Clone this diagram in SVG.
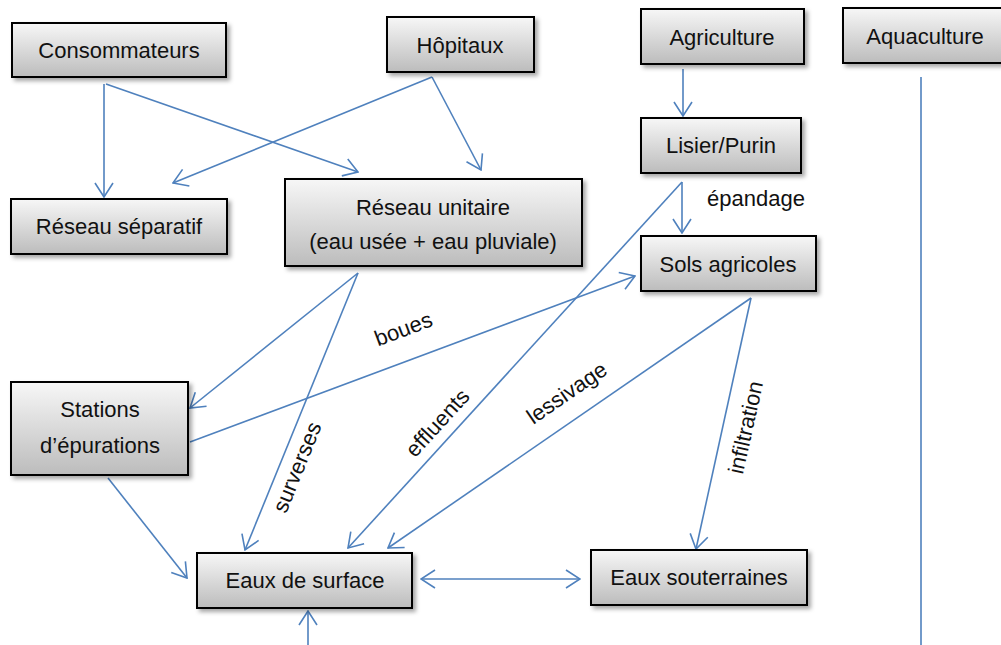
<svg xmlns="http://www.w3.org/2000/svg" width="1001" height="645" viewBox="0 0 1001 645">
<style>
.box{fill:url(#g);stroke:#000;stroke-width:2;filter:url(#sh)}
.t{font-family:"Liberation Sans",Arial,sans-serif;font-size:22px;fill:#111;text-anchor:middle}
.c{fill:none;stroke:#4f81bd;stroke-width:1.6}
.a{marker-end:url(#arr)}
</style>
<defs>
<linearGradient id="g" x1="0" y1="0" x2="0" y2="1">
<stop offset="0" stop-color="#f7f7f7"/>
<stop offset="1" stop-color="#bcbcbc"/>
</linearGradient>
<filter id="sh" x="-10%" y="-10%" width="130%" height="140%">
<feDropShadow dx="3" dy="3" stdDeviation="2" flood-color="#000" flood-opacity="0.35"/>
</filter>
<marker id="arr" viewBox="0 0 16 20" refX="15" refY="10" markerWidth="16" markerHeight="20" orient="auto-start-reverse" markerUnits="userSpaceOnUse">
<path d="M1,1 L15,10 L1,19" fill="none" stroke="#4f81bd" stroke-width="1.6"/>
</marker>
</defs>
<rect width="1001" height="645" fill="#fff"/>
<g id="connectors">
<line class="c a" x1="104" y1="84" x2="104" y2="197"/>
<line class="c a" x1="106" y1="84" x2="358" y2="172"/>
<line class="c a" x1="432" y1="77" x2="173" y2="183"/>
<line class="c a" x1="432" y1="77" x2="481" y2="170"/>
<line class="c a" x1="683" y1="69" x2="683" y2="116"/>
<line class="c a" x1="682" y1="182" x2="682" y2="233"/>
<line class="c a" x1="682" y1="182" x2="348" y2="548"/>
<line class="c a" x1="358" y1="273" x2="190" y2="408"/>
<line class="c a" x1="358" y1="273" x2="245" y2="550"/>
<line class="c a" x1="190" y1="442" x2="635" y2="276"/>
<line class="c a" x1="751" y1="298" x2="388" y2="548"/>
<line class="c a" x1="751" y1="298" x2="696" y2="549"/>
<line class="c a" x1="108" y1="478" x2="187" y2="578" />
<line class="c a" x1="421" y1="579" x2="580" y2="579" style="marker-start:url(#arr)"/>
<line class="c a" x1="308" y1="645" x2="308" y2="611"/>
<line class="c" x1="921" y1="77" x2="921" y2="645"/>
<text class="t" transform="translate(406,336) rotate(-20.5)">boues</text>
<text class="t" transform="translate(304,470) rotate(-67.8)">surverses</text>
<text class="t" transform="translate(443,428) rotate(-47.6)">effluents</text>
<text class="t" transform="translate(571,399) rotate(-34.4)">lessivage</text>
<text class="t" transform="translate(753,429) rotate(-77.5)">infiltration</text>
<text class="t" x="756" y="206">épandage</text>
</g>
<g id="n-consommateurs"><rect class="box" x="12" y="23" width="214" height="54"/><text class="t" x="119" y="58">Consommateurs</text></g>
<g id="n-hopitaux"><rect class="box" x="387" y="17" width="147" height="55"/><text class="t" x="460" y="53">Hôpitaux</text></g>
<g id="n-agriculture"><rect class="box" x="641" y="9" width="163" height="55"/><text class="t" x="722" y="45">Agriculture</text></g>
<g id="n-aquaculture"><rect class="box" x="843" y="8" width="164" height="55"/><text class="t" x="925" y="44">Aquaculture</text></g>
<g id="n-lisier"><rect class="box" x="641" y="118" width="160" height="55"/><text class="t" x="721" y="153">Lisier/Purin</text></g>
<g id="n-separatif"><rect class="box" x="11" y="199" width="216" height="55"/><text class="t" x="119" y="234">Réseau séparatif</text></g>
<g id="n-unitaire"><rect class="box" x="285" y="179" width="297" height="87"/><text class="t" x="433" y="215">Réseau unitaire</text><text class="t" x="433" y="249">(eau usée + eau pluviale)</text></g>
<g id="n-sols"><rect class="box" x="641" y="236" width="175" height="55"/><text class="t" x="728" y="272">Sols agricoles</text></g>
<g id="n-stations"><rect class="box" x="11" y="382" width="177" height="93"/><text class="t" x="100" y="417">Stations</text><text class="t" x="100" y="453">d’épurations</text></g>
<g id="n-surface"><rect class="box" x="197" y="553" width="215" height="55"/><text class="t" x="305" y="588">Eaux de surface</text></g>
<g id="n-souterraines"><rect class="box" x="591" y="550" width="216" height="55"/><text class="t" x="699" y="585">Eaux souterraines</text></g>
</svg>
